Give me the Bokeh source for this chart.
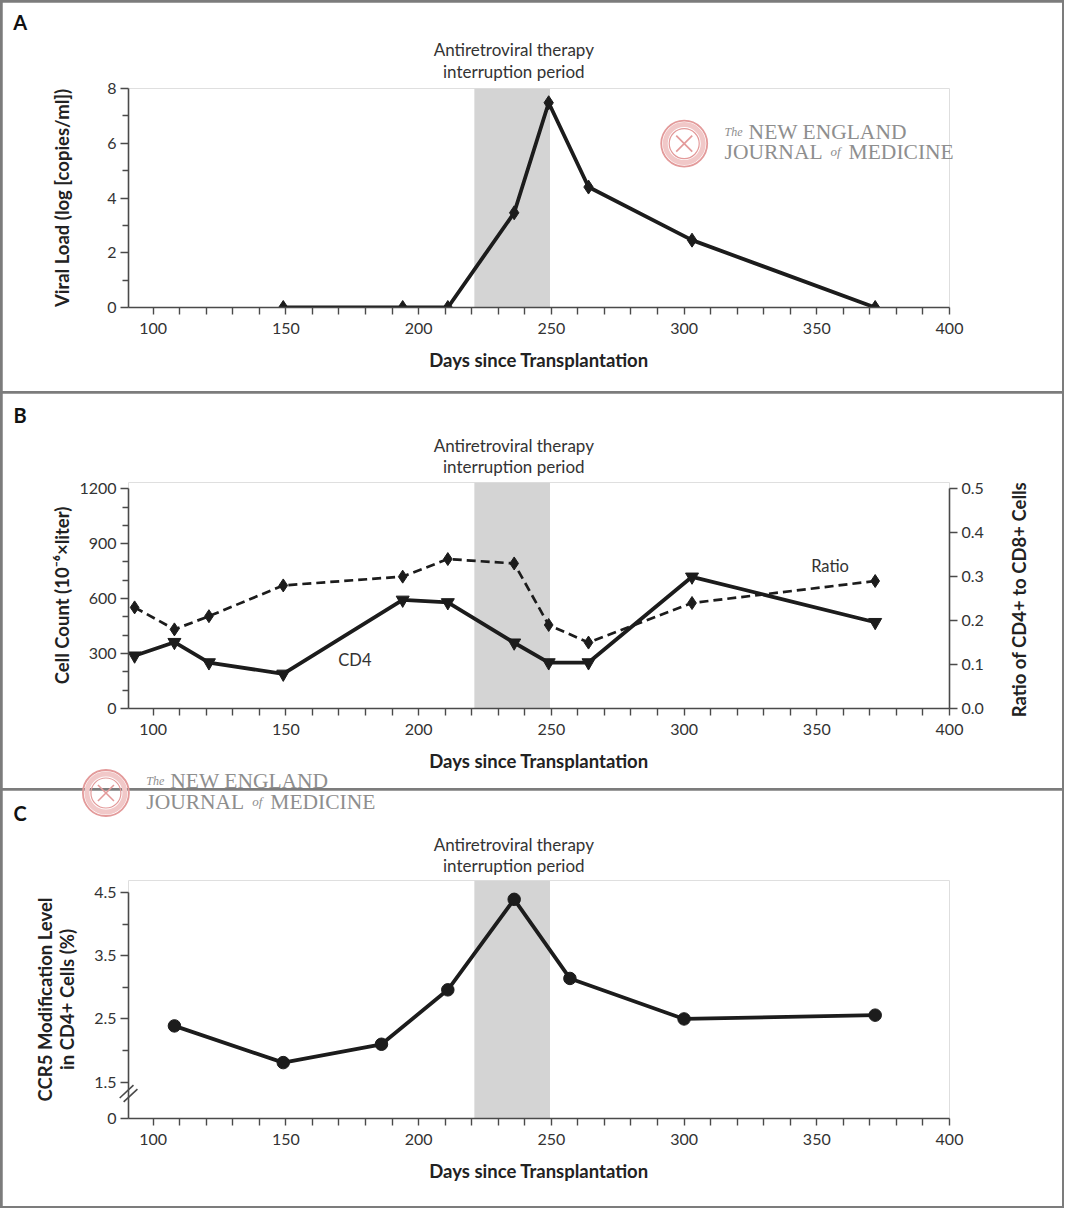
import math
from bokeh.plotting import figure
from bokeh.models import (Range1d, LinearAxis, FixedTicker, Label, GridBox,
                          CustomJSTickFormatter, PrintfTickFormatter)
from bokeh.embed import file_html
from bokeh.resources import INLINE

# ---------------- data ----------------
art_start = 221
art_end = 249.5
art_text_1 = "Antiretroviral therapy"
art_text_2 = "interruption period"

x_ticks = [100, 150, 200, 250, 300, 350, 400]
x_minor = [110, 120, 130, 140, 160, 170, 180, 190, 210, 220, 230, 240,
           260, 270, 280, 290, 310, 320, 330, 340, 360, 370, 380, 390]

vl_days = [149, 194, 211, 236, 249, 264, 303, 372]
vl_log = [0, 0, 0, 3.46, 7.48, 4.40, 2.46, 0]
vl_ticks = [0, 2, 4, 6, 8]
vl_minor = [1, 3, 5, 7]

cd4_days = [93, 108, 121, 149, 194, 211, 236, 249, 264, 303, 372]
cd4_count = [288, 362, 251, 189, 593, 579, 359, 251, 251, 719, 471]
ratio_days = [93, 108, 121, 149, 194, 211, 236, 249, 264, 303, 372]
ratio_vals = [0.23, 0.18, 0.21, 0.28, 0.30, 0.34, 0.33, 0.19, 0.15, 0.24, 0.29]
cell_ticks = [0, 300, 600, 900, 1200]
cell_minor = [100, 200, 400, 500, 700, 800, 1000, 1100]
ratio_ticks = [0.0, 0.1, 0.2, 0.3, 0.4, 0.5]

ccr5_days = [108, 149, 186, 211, 236, 257, 300, 372]
ccr5_pct = [2.39, 1.81, 2.10, 2.96, 4.39, 3.14, 2.50, 2.56]
ccr5_zero = 0.927          # where "0" sits below the axis break
ccr5_ticks = [ccr5_zero, 1.5, 2.5, 3.5, 4.5]
ccr5_minor = [2.0, 3.0, 4.0]

panel_letters = ["A", "B", "C"]

# ---------------- style ----------------
FONT = "Lato"
INK = "#1c1c1c"
AX = "#4a4a4a"
TXT = "#333333"
BAND = "#d4d4d4"
LOGO_TXT = "#8e8e8e"
SEAL = "#e39a9a"
SEAL_LIGHT = "#f1c8c8"

TOTAL_W, TOTAL_H = 1064, 1208
SX, SY = TOTAL_W / 1080, TOTAL_H / 1224
INNER_W, INNER_H = TOTAL_W - 4, TOTAL_H - 4

X0, X1 = 90.7, 400
FRAME_W = 821
B_LEFT, B_RIGHT = 126, INNER_W - 126 - FRAME_W


def R(x, y):
    """reference-picture pixel -> overlay pixel"""
    return x * SX - 2, y * SY - 2


def make_fig(y0, y1, frame_h, top, bottom):
    p = figure(frame_width=FRAME_W, frame_height=frame_h,
               x_range=Range1d(X0, X1), y_range=Range1d(y0, y1),
               min_border_left=B_LEFT, min_border_right=B_RIGHT,
               min_border_top=top, min_border_bottom=bottom,
               toolbar_location=None, output_backend="svg",
               background_fill_color="white", border_fill_color="white",
               outline_line_color=None)
    p.grid.visible = False
    return p


def style_axis(ax, label, standoff):
    ax.axis_label = label
    ax.axis_label_text_font = FONT
    ax.axis_label_text_font_style = "bold"
    ax.axis_label_text_font_size = "18.5px"
    ax.axis_label_text_color = "#222222"
    ax.axis_label_standoff = standoff
    ax.major_label_text_font = FONT
    ax.major_label_text_font_size = "16px"
    ax.major_label_text_color = TXT
    ax.axis_line_color = AX
    ax.axis_line_width = 1.6
    ax.major_tick_line_color = AX
    ax.minor_tick_line_color = AX
    ax.major_tick_line_width = 1.4
    ax.minor_tick_line_width = 1.4
    ax.major_tick_in = 0
    ax.minor_tick_in = 0


def style_x(p):
    ax = p.xaxis[0]
    ax.ticker = FixedTicker(ticks=x_ticks, minor_ticks=x_minor)
    style_axis(ax, "Days since Transplantation", 12)
    ax.major_tick_out = 7
    ax.minor_tick_out = 7
    ax.major_label_standoff = 8


def band(p, y0, y1):
    p.quad(left=[art_start], right=[art_end], bottom=[y0], top=[y1],
           fill_color=BAND, line_color=None)


LW = 3.8

# ---------------- panel A ----------------
A_FH = 219
A_Y1 = 8
pA = make_fig(0, A_Y1, A_FH, 86, 84)
band(pA, 0, A_Y1)
pA.line(vl_days, vl_log, line_width=LW, line_color=INK)
pA.scatter(vl_days, vl_log, marker="diamond", size=14, fill_color=INK,
           line_color=INK)
style_x(pA)
ay = pA.yaxis[0]
ay.ticker = FixedTicker(ticks=vl_ticks, minor_ticks=vl_minor)
style_axis(ay, "Viral Load (log [copies/ml])", 31)
ay.major_tick_out = 8
ay.minor_tick_out = 6
ay.major_label_standoff = 4

# ---------------- panel B ----------------
B_FH = 226
B_Y1 = 1200 * B_FH / (B_FH - (494.3 - 488) * SY)
pB = make_fig(0, B_Y1, B_FH, 89, 80)
pB.extra_y_ranges = {"ratio": Range1d(0, 0.5 * B_Y1 / 1200)}
band(pB, 0, B_Y1)
pB.line(ratio_days, ratio_vals, y_range_name="ratio", line_width=2.7,
        line_color=INK, line_dash="9 5")
pB.scatter(ratio_days, ratio_vals, y_range_name="ratio", marker="diamond",
           size=13, fill_color=INK, line_color=INK)
pB.line(cd4_days, cd4_count, line_width=LW, line_color=INK)
pB.scatter(cd4_days, cd4_count, marker="inverted_triangle", size=13,
           fill_color=INK, line_color=INK)
style_x(pB)
by = pB.yaxis[0]
by.ticker = FixedTicker(ticks=cell_ticks, minor_ticks=cell_minor)
by.bounds = (0, 1200)
style_axis(by, "Cell Count (10\u207B\u2076\u00D7liter)", 3)
by.major_tick_out = 8
by.minor_tick_out = 6
by.major_label_standoff = 4
ry = LinearAxis(y_range_name="ratio",
                ticker=FixedTicker(ticks=ratio_ticks, minor_ticks=[]),
                formatter=PrintfTickFormatter(format="%.1f"), bounds=(0, 0.5))
style_axis(ry, "", 0)
ry.major_tick_out = 8
ry.minor_tick_out = 0
ry.major_label_standoff = 4
pB.add_layout(ry, "right")
pB.add_layout(Label(x=176, y=266, text="CD4", text_align="center",
                    text_baseline="middle", text_font=FONT,
                    text_font_size="16.5px", text_color=TXT))
pB.add_layout(Label(x=355, y=776, text="Ratio", text_align="center",
                    text_baseline="middle", text_font=FONT,
                    text_font_size="16.5px", text_color=TXT))

# ---------------- panel C ----------------
C_FH = 238
C_PX = (1096 - 904) * SY / 3
C_Y1 = 4.5 + ((904 - 892) * SY) / C_PX
pC = make_fig(ccr5_zero, C_Y1, C_FH, 90, 88)
band(pC, ccr5_zero, C_Y1)
pC.line(ccr5_days, ccr5_pct, line_width=LW, line_color=INK)
pC.scatter(ccr5_days, ccr5_pct, marker="circle", size=12.5, fill_color=INK,
           line_color=INK)
style_x(pC)
cy = pC.yaxis[0]
cy.ticker = FixedTicker(ticks=ccr5_ticks, minor_ticks=ccr5_minor)
cy.formatter = CustomJSTickFormatter(
    code="return tick < 1 ? '0' : tick.toFixed(1);")
cy.bounds = (ccr5_zero, 4.5)
style_axis(cy, "CCR5 Modification Level\nin CD4+ Cells (%)", 13)
cy.axis_label_text_line_height = 1.0
cy.major_tick_out = 8
cy.minor_tick_out = 6
cy.major_label_standoff = 4

# ---------------- overlay (texts outside the plot frames) ----------------
ov = figure(width=INNER_W, height=INNER_H, x_range=Range1d(0, INNER_W),
            y_range=Range1d(INNER_H, 0), min_border=0,
            toolbar_location=None, output_backend="svg",
            x_axis_type=None, y_axis_type=None,
            background_fill_alpha=0, border_fill_alpha=0,
            outline_line_color=None)
ov.frame_align = False
ov.grid.visible = False


def ov_label(rx, ry_, text, size, style="normal", font=FONT, color=TXT,
             align="center", angle=0, x_offset=0):
    x, y = R(rx, ry_)
    ov.add_layout(Label(x=x, y=y, text=text, text_align=align,
                        text_baseline="middle", text_font=font,
                        text_font_style=style, text_font_size=size,
                        text_color=color, angle=angle, x_offset=x_offset))


# panel letters
for letter, ly in zip(panel_letters, [22, 420, 823]):
    ov_label(20, ly, letter, "20px", "bold", color="#111111")

# therapy interruption captions
for l1, l2 in [(50, 72), (451, 472), (855, 876)]:
    ov_label(521, l1, art_text_1, "17px")
    ov_label(521, l2, art_text_2, "17px")

# right-axis title of panel B
ov_label(1034, 607, "Ratio of CD4+ to CD8+ Cells", "18.5px", "bold",
         color="#222222", angle=math.pi / 2)

# axis break marks on panel C
b1 = [R(121, 1112), R(125, 1116)]
b2 = [R(135, 1099), R(139, 1103)]
ov.segment(x0=[p[0] for p in b1], y0=[p[1] for p in b1],
           x1=[p[0] for p in b2], y1=[p[1] for p in b2],
           line_color=AX, line_width=1.6)


def logo(scx, scy, tx, y1, y2):
    cx, cy_ = R(scx, scy)
    ov.circle(x=[cx], y=[cy_], radius=19, fill_color=None,
              line_color=SEAL_LIGHT, line_width=5)
    ov.circle(x=[cx], y=[cy_], radius=23, fill_color=None,
              line_color=SEAL, line_width=1.8)
    ov.circle(x=[cx], y=[cy_], radius=15, fill_color=None,
              line_color=SEAL, line_width=1.2)
    ov.segment(x0=[cx - 8, cx - 8], y0=[cy_ - 8, cy_ + 8],
               x1=[cx + 8, cx + 8], y1=[cy_ + 8, cy_ - 8],
               line_color=SEAL, line_width=1.6)
    serif = "Liberation Serif"
    parts = [("The", 0, y1, "12px", "italic"),
             ("NEW ENGLAND", 24, y1, "21.5px", "normal"),
             ("JOURNAL", 0, y2, "21.5px", "normal"),
             ("of", 106, y2, "13px", "italic"),
             ("MEDICINE", 124, y2, "21.5px", "normal")]
    for t, off, y, fs, st in parts:
        ov_label(tx, y, t, fs, st, font=serif, color=LOGO_TXT, align="left",
                 x_offset=off)


logo(694, 145, 735, 133, 153.5)
logo(107, 803, 148, 791, 812)

layout = GridBox(children=[(pA, 0, 0), (pB, 1, 0), (pC, 2, 0), (ov, 0, 0, 3, 1)],
                 spacing=2,
                 styles={"background-color": "#7c7c7c", "padding": "2px"})

open("out.html", "w").write(file_html(layout, INLINE))
